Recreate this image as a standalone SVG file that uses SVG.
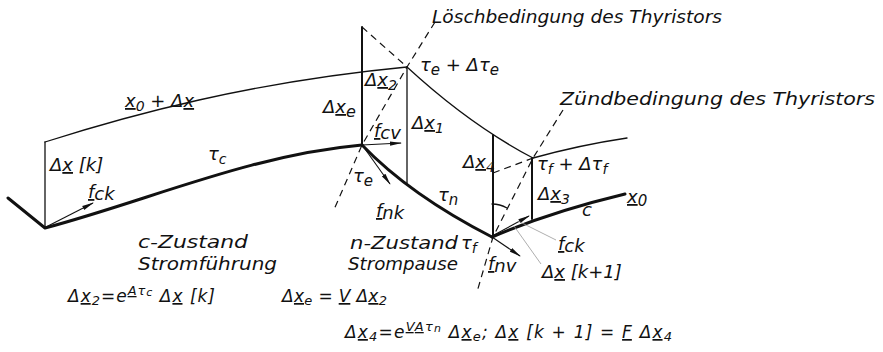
<svg xmlns="http://www.w3.org/2000/svg" width="883" height="352" viewBox="0 0 883 352">
<style>
  .bg{fill:#fff}
  .thick{fill:none;stroke:#111;stroke-width:3;stroke-linecap:round;stroke-linejoin:round}
  .thin{fill:none;stroke:#111;stroke-width:1.3;stroke-linecap:round}
  .med{fill:none;stroke:#111;stroke-width:2;stroke-linecap:round}
  .dash{fill:none;stroke:#111;stroke-width:1.2;stroke-dasharray:7 5}
  .arr{fill:none;stroke:#111;stroke-width:1.1;marker-end:url(#ah)}
  .lead{fill:none;stroke:#999;stroke-width:0.8}
  text{font-family:"DejaVu Sans","Liberation Sans",sans-serif;font-style:italic;font-weight:200;fill:#111;font-size:18px}
  .eq{font-size:17px}
  .u{text-decoration:underline}
</style>
<defs>
  <marker id="ah" viewBox="0 0 12 6" refX="11" refY="3" markerWidth="12" markerHeight="6" markerUnits="userSpaceOnUse" orient="auto">
    <path d="M0,0.8 L12,3 L0,5.2 Z" fill="#111"/>
  </marker>
</defs>
<rect class="bg" width="883" height="352"/>

<g id="curves">
  <path id="c-lower" class="thick" d="M8,198 L45,228 C150,200 250,155 362,145"/>
  <path id="n-lower" class="thick" d="M362,145 Q410,195 492,237"/>
  <path id="c-lower-right" class="thick" d="M492,237 Q550,212 625,194"/>
  <path id="upper-c" class="thin" d="M45,142 C130,115 250,82 407,67"/>
  <path id="upper-n" class="thin" d="M407,67 Q470,125 533,158"/>
  <path id="upper-right" class="thin" d="M533,158 Q580,145 627,138"/>
</g>

<g id="verticals">
  <line class="thin" x1="45" y1="142" x2="45" y2="228"/>
  <line class="med" x1="362" y1="27" x2="362" y2="145"/>
  <line class="thin" x1="407" y1="67" x2="407" y2="183"/>
  <line class="med" x1="493" y1="135" x2="493" y2="237"/>
  <line class="med" x1="532" y1="158" x2="532" y2="219"/>
</g>

<g id="connectors">
  <line class="dash" x1="362" y1="27" x2="407" y2="67"/>
  <polyline class="dash" points="435,22 407,67 362,145 333,212"/>
  <polyline class="dash" points="563,110 533,158 493,237 477,292"/>
  <line class="dash" x1="493" y1="173" x2="533" y2="158"/>
  <path class="thin" d="M492,204 A33,33 0 0,1 507,208" stroke-width="0.9"/>
  <line class="arr" x1="46" y1="227" x2="93" y2="203"/>
  <line class="arr" x1="362" y1="145" x2="401" y2="143"/>
  <line class="arr" x1="365" y1="149" x2="390" y2="184"/>
  <line class="arr" x1="492" y1="237" x2="520" y2="256"/>
  <line class="arr" x1="494" y1="235" x2="529" y2="216"/>
  <line class="lead" x1="518" y1="221" x2="556" y2="240"/>
  <line class="lead" x1="514" y1="226" x2="541" y2="264"/>
</g>

<g id="labels">
  <text x="432" y="23" textLength="290" lengthAdjust="spacingAndGlyphs">Löschbedingung des Thyristors</text>
  <text x="560" y="105" textLength="315" lengthAdjust="spacingAndGlyphs" font-size="20">Zündbedingung des Thyristors</text>

  <text x="125" y="107"><tspan class="u">x</tspan><tspan dy="4" font-size="14">0</tspan><tspan dy="-4"> + Δ</tspan><tspan class="u">x</tspan></text>
  <text x="50" y="171">Δ<tspan class="u">x</tspan> [k]</text>
  <text x="88" y="198"><tspan class="u">f</tspan><tspan dy="2">ck</tspan></text>
  <text x="208" y="160">τ<tspan dy="4" font-size="14">c</tspan></text>

  <text x="365" y="86">Δ<tspan class="u">x</tspan><tspan dy="4" font-size="14">2</tspan></text>
  <text x="323" y="113">Δ<tspan class="u">x</tspan><tspan dy="4" font-size="16">e</tspan></text>
  <text x="374" y="137"><tspan class="u">f</tspan><tspan dy="2">cv</tspan></text>
  <text x="412" y="129">Δ<tspan class="u">x</tspan><tspan dy="4" font-size="14">1</tspan></text>
  <text x="420" y="71">τ<tspan dy="4" font-size="15">e</tspan><tspan dy="-4"> + Δτ</tspan><tspan dy="4" font-size="15">e</tspan></text>

  <text x="353" y="182">τ<tspan dy="4" font-size="15">e</tspan></text>
  <text x="376" y="217"><tspan class="u">f</tspan><tspan dy="2">nk</tspan></text>
  <text x="438" y="201">τ<tspan dy="4" font-size="15">n</tspan></text>
  <text x="463" y="168">Δ<tspan class="u">x</tspan><tspan dy="4" font-size="14">4</tspan></text>
  <text x="537" y="170">τ<tspan dy="4" font-size="14">f</tspan><tspan dy="-4"> + Δτ</tspan><tspan dy="4" font-size="14">f</tspan></text>
  <text x="538" y="200">Δ<tspan class="u">x</tspan><tspan dy="4" font-size="14">3</tspan></text>
  <text x="582" y="216" font-size="16">c</text>
  <text x="627" y="203"><tspan class="u">x</tspan><tspan dy="3" font-size="15">0</tspan></text>
  <text x="558" y="250"><tspan class="u">f</tspan><tspan dy="2">ck</tspan></text>
  <text x="542" y="278">Δ<tspan class="u">x</tspan> [k+1]</text>
  <text x="488" y="270"><tspan class="u">f</tspan><tspan dy="2">nv</tspan></text>
  <text x="461" y="249">τ<tspan dy="4" font-size="14">f</tspan></text>

  <text x="138" y="248" textLength="110" lengthAdjust="spacingAndGlyphs">c-Zustand</text>
  <text x="138" y="270" textLength="139" lengthAdjust="spacingAndGlyphs">Stromführung</text>
  <text x="350" y="249" textLength="108" lengthAdjust="spacingAndGlyphs">n-Zustand</text>
  <text x="348" y="270" textLength="110" lengthAdjust="spacingAndGlyphs">Strompause</text>

  <text class="eq" x="68" y="302" textLength="147" lengthAdjust="spacing">Δ<tspan class="u">x</tspan><tspan dy="3" font-size="13">2</tspan><tspan dy="-3">=e</tspan><tspan dy="-7" font-size="13"><tspan class="u">A</tspan>τ</tspan><tspan dy="1" font-size="11">c</tspan><tspan dy="6"> Δ</tspan><tspan class="u">x</tspan> [k]</text>
  <text class="eq" x="282" y="302" textLength="105" lengthAdjust="spacing">Δ<tspan class="u">x</tspan><tspan dy="3" font-size="13">e</tspan><tspan dy="-3"> = </tspan><tspan class="u">V</tspan> Δ<tspan class="u">x</tspan><tspan dy="3" font-size="13">2</tspan></text>
  <text class="eq" x="345" y="338" textLength="327" lengthAdjust="spacing">Δ<tspan class="u">x</tspan><tspan dy="3" font-size="13">4</tspan><tspan dy="-3">=e</tspan><tspan dy="-7" font-size="13"><tspan class="u">VA</tspan>τ</tspan><tspan dy="1" font-size="11">n</tspan><tspan dy="6"> Δ</tspan><tspan class="u">x</tspan><tspan dy="3" font-size="13">e</tspan><tspan dy="-3">;  Δ</tspan><tspan class="u">x</tspan> [k + 1] = <tspan class="u">F</tspan> Δ<tspan class="u">x</tspan><tspan dy="3" font-size="13">4</tspan></text>
</g>
</svg>
